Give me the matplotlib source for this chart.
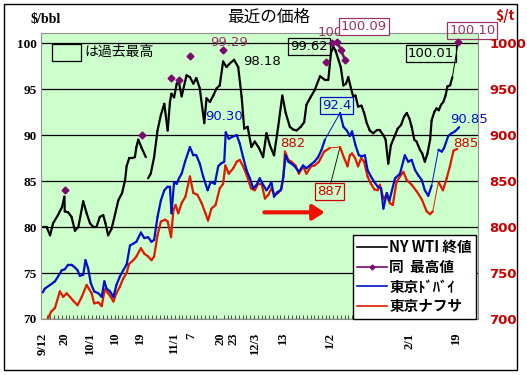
import numpy as np
import matplotlib
matplotlib.use("Agg")
import matplotlib.pyplot as plt
from matplotlib.patches import Rectangle
from matplotlib.lines import Line2D
from matplotlib.ticker import MultipleLocator

plt.rcParams['font.family'] = ['Noto Sans CJK JP', 'DejaVu Sans']

nan = float('nan')

# ---- data (x = trading-day index from 9/12) ----
tick_days = [0, 5.8, 12.5, 19.1, 25.7, 34.7, 39.4, 47, 50.5, 56.2, 63.6, 76.1, 97.3, 109.5]
tick_labels = ['9/12', '20', '10/1', '10', '19', '11/1', '7', '20', '23', '12/3', '13', '1/2', '2/1', '19']

wti_points = [(0, 80.0), (1, 80.0), (1.9, 79.1), (2.7, 80.4), (4, 81.3), (5.1, 82.2), (5.7, 83.3), (5.8, 81.7),
              (6.7, 81.6), (7.6, 81.1), (8.5, 79.6), (9.4, 80.0), (10.7, 82.8), (11.6, 81.5), (12.5, 80.4),
              (13.4, 80.0), (14.2, 80.0), (15.1, 81.1), (16, 81.3), (16.6, 80.4), (17.3, 79.1), (18.2, 79.8),
              (19.1, 81.3), (20, 82.9), (21, 83.7), (21.8, 85.1), (22.2, 86.6), (22.9, 87.5), (23.7, 87.5),
              (24.4, 87.6), (24.8, 88.7), (25.3, 89.5), (26.2, 88.6), (27.3, 87.6), (27.6, nan), (27.9, 85.3),
              (28.6, 85.8), (29.5, 87.6), (30.4, 90.5), (31.3, 92.2), (32.2, 93.4), (33.1, 90.5), (33.7, 93.6),
              (34.1, 94.5), (34.8, 94.1), (35.5, 95.6), (36.1, 95.7), (36.8, 94.2), (38.1, 96.5), (39, 96.3),
              (39.9, 95.6), (40.7, 96.2), (41.6, 95.1), (42.8, 91.3), (43.4, 94.0), (44.3, 93.6), (45.2, 94.3),
              (46.1, 95.1), (46.9, 95.4), (47.8, 98.0), (48.7, 97.4), (49.6, 97.8), (50.7, 98.18), (51.8, 97.4),
              (52.7, 94.2), (53.4, 90.7), (54.3, 90.9), (55.3, 88.7), (56.2, 89.3), (57.3, 88.6), (58.4, 87.6),
              (59.3, 90.2), (60.2, 88.9), (61.3, 87.8), (62.4, 90.9), (63.5, 94.3), (64.4, 92.4), (65.5, 90.9),
              (66.4, 90.6), (67.3, 90.5), (68.4, 90.9), (69.3, 91.4), (69.9, 93.3), (71.1, 94.2), (72.1, 94.9),
              (73.5, 96.4), (74.8, 96.0), (75.7, 96.0), (76.4, 98.9), (77.0, 99.62), (77.6, 99.2), (78.3, 98.3),
              (79.0, 97.4), (79.7, 95.4), (80.4, 95.6), (81.0, 96.3), (81.7, 95.1), (82.3, 94.2), (82.9, 94.3),
              (83.6, 93.1), (84.5, 93.2), (85.2, 92.4), (85.9, 91.3), (86.7, 90.5), (87.6, 90.2), (88.5, 90.5),
              (89.4, 90.5), (90.3, 90.0), (90.9, 89.5), (91.6, 86.9), (92.3, 88.9), (93.2, 89.8), (94.1, 90.7),
              (95.0, 91.1), (95.8, 92.0), (96.5, 92.4), (97.2, 91.8), (97.8, 90.9), (98.5, 89.5), (99.1, 89.3),
              (100.0, 88.4), (100.6, 88.0), (101.3, 87.1), (102.0, 88.0), (102.7, 89.5), (103.1, 91.6),
              (103.8, 92.5), (104.4, 92.9), (105.0, 92.7), (105.6, 93.3), (106.2, 93.6), (106.8, 94.3),
              (107.3, 95.3), (108.0, 95.4), (108.6, 96.3), (110.1, 100.01)]
wti_thin = [108.6]

high_points = [(5.8, 84.0), (6.0, nan), (26.2, 90.0), (26.5, nan), (33.9, 96.2), (34.5, nan), (36.1, 96.0),
               (36.5, nan), (39.0, 98.6), (39.5, nan), (47.7, 99.29), (48.0, nan), (75.2, 98.0), (75.5, nan),
               (76.8, 100.0), (78.1, 100.09), (79.1, 99.2), (80.1, 98.2), (80.5, nan), (110.2, 100.10)]

dubai_points = [(0, 72.9), (0.5, 73.3), (1.9, 73.7), (3.2, 74.1), (4, 74.6), (5, 75.3), (5.8, 75.4), (6.7, 75.9),
                (7.6, 75.9), (8.5, 75.6), (9.2, 75.3), (9.8, 74.7), (10.7, 74.8), (11.3, 76.4), (12, 75.5),
                (12.7, 73.9), (13.6, 73.0), (14.7, 72.8), (15.6, 72.4), (16.3, 74.1), (16.9, 73.3), (17.8, 73.0),
                (18.7, 72.4), (19.5, 73.7), (20.4, 74.6), (21.3, 75.3), (22.2, 75.9), (23.1, 78.0), (24, 78.2),
                (24.8, 78.4), (26, 79.4), (26.9, 78.8), (27.9, 78.9), (28.8, 78.4), (29.5, 78.6), (30.4, 81.1),
                (31.3, 82.9), (32.2, 84.0), (33.1, 84.4), (33.7, 84.4), (34.1, 81.5), (34.8, 84.9), (35.5, 84.7),
                (36.1, 85.3), (36.8, 85.8), (37.7, 87.1), (39, 88.7), (39.9, 87.8), (40.7, 87.8), (41.6, 86.9),
                (42.5, 85.5), (43.7, 84.0), (44.5, 84.9), (45.6, 84.7), (46.5, 86.6), (47.2, 86.9), (48.1, 87.1),
                (48.5, 90.3), (49.3, 89.6), (50.2, 89.8), (51.4, 90.0), (52.2, 89.1), (53.1, 87.6), (54, 86.2),
                (54.9, 85.3), (55.8, 84.2), (56.7, 84.6), (57.5, 85.3), (58.4, 84.6), (59.3, 84.0), (60, 84.4),
                (60.6, 84.9), (61.3, 83.3), (62.2, 83.8), (63.1, 84.0), (63.7, 85.3), (64.4, 87.8), (65.1, 87.1),
                (65.9, 86.9), (66.8, 86.6), (67.9, 86.0), (69, 86.7), (69.9, 86.4), (70.8, 86.7), (72, 87.1),
                (73, 87.6), (73.9, 88.4), (74.8, 89.5), (78.8, 92.4), (79.7, 90.9), (80.6, 90.5), (81.4, 89.9),
                (82, 90.4), (82.9, 88.9), (83.8, 87.8), (84.7, 87.7), (85.4, 87.8), (86.1, 86.2), (87, 85.5),
                (87.9, 84.9), (88.8, 84.4), (89.7, 84.2), (90.3, 82.0), (91.2, 83.7), (91.9, 82.9), (93.4, 85.3),
                (94.7, 85.8), (96.0, 87.8), (96.9, 87.1), (97.8, 87.3), (98.7, 86.2), (99.6, 85.6), (100.5, 85.1),
                (101.3, 84.0), (102.2, 83.4), (103.1, 84.5), (104.9, 88.4), (105.8, 88.2), (106.4, 88.6),
                (107.5, 89.9), (108.4, 90.2), (109.3, 90.4), (110.4, 90.85)]
dubai_thin = [74.8, 103.1]

naphtha_points = [(0.8, 69.6), (2.2, 70.8), (3.2, 71.2), (4.5, 73.0), (5.4, 72.4), (6.3, 72.8), (7.2, 72.4),
                  (8, 72.0), (9.2, 71.5), (10.3, 72.4), (11.6, 73.7), (12.2, 73.3), (12.9, 72.8), (13.6, 71.7),
                  (14.7, 71.8), (15.6, 71.4), (16.4, 73.2), (17.3, 72.8), (18, 72.4), (18.7, 71.9), (19.5, 72.8),
                  (20.4, 73.5), (21.3, 74.4), (22.2, 75.0), (22.9, 76.0), (24, 76.4), (24.8, 76.8), (26, 77.7),
                  (26.9, 77.1), (27.9, 76.8), (28.8, 76.4), (29.5, 76.8), (30.4, 79.1), (31.3, 80.6), (32.4, 80.8),
                  (33.1, 80.6), (34, 78.9), (34.6, 81.8), (35.2, 82.4), (35.9, 81.5), (36.8, 82.6), (37.8, 83.3),
                  (39, 85.5), (39.9, 83.7), (41, 83.5), (42.1, 82.6), (43.1, 81.5), (43.8, 80.7), (44.7, 82.0),
                  (45.8, 82.4), (46.9, 84.2), (47.8, 84.7), (48.4, 86.7), (49.3, 85.8), (50.5, 86.4), (51.4, 87.1),
                  (52.2, 87.3), (53.1, 86.6), (54, 85.7), (55.2, 84.2), (56.2, 84.0), (57.1, 84.7), (58, 84.7),
                  (58.9, 83.1), (59.8, 83.5), (60.6, 84.2), (61.5, 83.5), (62.4, 83.7), (63.3, 84.2), (63.8, 85.5),
                  (64.2, 88.2), (65.1, 87.3), (65.9, 87.1), (67, 86.7), (67.9, 85.8), (69, 86.6), (69.9, 85.8),
                  (71.1, 86.6), (72.1, 86.7), (73.2, 87.1), (74.6, 88.2), (76.1, 88.6), (78.8, 88.7), (79.9, 87.5),
                  (80.8, 86.6), (81.4, 87.8), (82, 88.0), (82.8, 87.5), (83.6, 86.6), (84.4, 87.5), (85.2, 87.1),
                  (86.1, 85.5), (87, 84.7), (87.9, 84.1), (88.8, 84.0), (89.4, 84.6), (90.3, 83.1), (91.2, 83.5),
                  (92.0, 82.6), (92.8, 82.4), (93.8, 84.9), (94.7, 85.5), (95.6, 86.0), (96.5, 85.1), (97.8, 84.6),
                  (99.1, 83.9), (100.5, 83.0), (101.8, 81.7), (102.7, 81.4), (103.4, 81.7), (104.9, 84.9),
                  (106.1, 84.0), (107.1, 85.3), (108, 86.7), (108.9, 88.3), (109.9, 88.5)]
naphtha_thin = [76.1, 103.4]

series_labels = ['NY WTI 終値', '同  最高値', '東京ﾄﾞﾊﾞｲ', '東京ナフサ']

C_BLACK = '#000000'
C_PURPLE = '#7a0a6e'
C_PURPLE_TXT = '#993366'
C_BLUE = '#0010c8'
C_RED = '#e01a00'
C_AXRED = '#cc0000'
C_BG = '#ccffcc'

fig = plt.figure(figsize=(5.27, 3.75), dpi=100)
ax = fig.add_axes([41 / 527, 1 - 319 / 375, 437 / 527, 286 / 375])
ax.set_facecolor(C_BG)
ax.set_xlim(-0.5, 115.4)
ax.set_ylim(70, 101.1)
ax.set_yticks(range(70, 101, 5))
ax.yaxis.grid(True, color='black', lw=0.9)
ax.set_axisbelow(True)
for s in ax.spines.values():
    s.set_color('#909090')
    s.set_linewidth(0.8)

ax.tick_params(axis='y', length=0, pad=3, labelsize=9.5)
for lab in ax.get_yticklabels():
    lab.set_fontfamily('Liberation Serif'); lab.set_fontweight('bold')
ax.set_xticks(tick_days)
ax.set_xticklabels(tick_labels, rotation=90, fontsize=9, fontfamily='Liberation Serif', fontweight='bold')
ax.tick_params(axis='x', which='major', length=0, pad=10)
ax.xaxis.set_minor_locator(MultipleLocator(1))
ax.tick_params(axis='x', which='minor', direction='in', length=3, width=0.6, color='#303030')

ax2 = ax.twinx()
ax2.set_ylim(700, 1011)
ax2.set_yticks(range(700, 1001, 50))
ax2.tick_params(axis='y', length=0, pad=8, labelsize=9.5, labelcolor=C_AXRED)
for lab in ax2.get_yticklabels():
    lab.set_fontfamily('DejaVu Sans'); lab.set_fontweight('bold')
for s in ax2.spines.values():
    s.set_visible(False)


def draw_series(points, color, thin_from, lw=1.6):
    days = [p[0] for p in points]
    vals = [p[1] for p in points]
    for i in range(len(days) - 1):
        w = 0.7 if days[i] in thin_from else lw
        ax.plot(days[i:i + 2], vals[i:i + 2], color=color, lw=w, solid_capstyle='round', zorder=3)


draw_series(naphtha_points, C_RED, naphtha_thin)
draw_series(dubai_points, C_BLUE, dubai_thin)
draw_series(wti_points, C_BLACK, wti_thin)
hd = [p[0] for p in high_points]
hv = [p[1] for p in high_points]
ax.plot(hd, hv, color=C_PURPLE, lw=1.8, marker='D', ms=3.5, zorder=4, clip_on=False)

# ---- annotations ----
fs = 9.5
ax.text(49.3, 100.1, '99.29', color=C_PURPLE_TXT, fontsize=fs, ha='center', va='center', family='DejaVu Sans')
ax.text(53.0, 98.0, '98.18', color='black', fontsize=fs, ha='left', va='center', family='DejaVu Sans')
ax.text(43.0, 92.0, '90.30', color=C_BLUE, fontsize=fs, ha='left', va='center', family='DejaVu Sans')
box = lambda ec: dict(boxstyle='square,pad=0.15', fc='none', ec=ec, lw=0.9)
ax.text(70.6, 99.6, '99.62', color='black', fontsize=fs, ha='center', va='center', family='DejaVu Sans', bbox=box('black'))
ax.text(76.1, 101.2, '100', color=C_PURPLE_TXT, fontsize=fs, ha='center', va='center', family='DejaVu Sans', clip_on=False)
ax.text(85.1, 101.85, '100.09', color=C_PURPLE_TXT, fontsize=fs, ha='center', va='center', family='DejaVu Sans',
        bbox=dict(boxstyle='square,pad=0.15', fc='white', ec=C_PURPLE_TXT, lw=0.9), clip_on=False)
ax.text(113.9, 101.36, '100.10', color=C_PURPLE_TXT, fontsize=fs, ha='center', va='center', family='DejaVu Sans',
        bbox=box(C_PURPLE_TXT), clip_on=False)
ax.text(102.9, 98.86, '100.01', color='black', fontsize=fs, ha='center', va='center', family='DejaVu Sans', bbox=box('black'))
ax.text(77.9, 93.26, '92.4', color=C_BLUE, fontsize=fs, ha='center', va='center', family='DejaVu Sans', bbox=box(C_BLUE))
ax.text(113.0, 91.74, '90.85', color=C_BLUE, fontsize=fs, ha='center', va='center', family='DejaVu Sans', clip_on=False)
ax.text(66.2, 89.1, '882', color=C_AXRED, fontsize=fs, ha='center', va='center', family='DejaVu Sans')
ax.text(112.2, 89.1, '885', color=C_AXRED, fontsize=fs, ha='center', va='center', family='DejaVu Sans', clip_on=False)
ax.text(76.0, 83.86, '887', color=C_AXRED, fontsize=fs, ha='center', va='center', family='DejaVu Sans', bbox=box(C_AXRED))
ax.plot([76.3, 78.8], [84.7, 88.7], color='black', lw=0.6, zorder=2)
ax.annotate('', xy=(75.5, 81.6), xytext=(58.0, 81.6),
            arrowprops=dict(arrowstyle='-|>,head_length=0.7,head_width=0.45', lw=3, color='#ee1100'))

# "は過去最高" key box
ax.add_patch(Rectangle((2.3, 98.1), 7.9, 1.85, fill=False, ec='black', lw=0.9, zorder=5))
ax.text(11.0, 99.05, 'は過去最高', fontsize=10, ha='left', va='center', color='black')

# legend
handles = [Line2D([], [], color=C_BLACK, lw=1.2),
           Line2D([], [], color=C_PURPLE, lw=1.2, marker='D', ms=2.5),
           Line2D([], [], color=C_BLUE, lw=1.2),
           Line2D([], [], color=C_RED, lw=1.2)]
leg = ax.legend(handles, series_labels, loc='upper left', bbox_to_anchor=(0.714, 0.294), borderaxespad=0,
                fancybox=False, edgecolor='black', framealpha=1, handlelength=2.0,
                handletextpad=0.2, labelspacing=0.25, borderpad=0.3,
                prop=dict(family=['Noto Sans CJK JP', 'DejaVu Sans'], weight='bold', size=10.5))
leg.get_frame().set_linewidth(1.0)
leg.set_zorder(10)

# titles
fig.text(46 / 527, 1 - 19 / 375, '$/bbl', fontsize=10, fontweight='bold', ha='center', va='center',
         family='Liberation Serif')
fig.text(269 / 527, 1 - 17 / 375, '最近の価格', fontsize=12, ha='center', va='center')
fig.text(505 / 527, 1 - 16 / 375, '$/t', fontsize=10, fontweight='bold', ha='center', va='center', color=C_AXRED)

# outer frame
fig.patches.append(Rectangle((3.5 / 527, 5 / 375), 513.5 / 527, 366 / 375, transform=fig.transFigure,
                             fill=False, ec='black', lw=1.0))

fig.savefig('out.png', dpi=100)
